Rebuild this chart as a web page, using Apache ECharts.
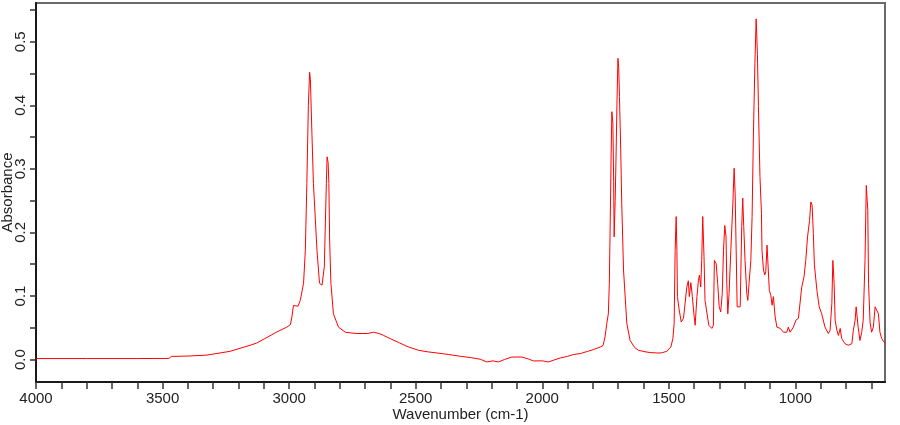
<!DOCTYPE html>
<html>
<head>
<meta charset="utf-8">
<script src="https://cdn.jsdelivr.net/npm/echarts@6/dist/echarts.min.js"></script>
<style>
  html, body { margin: 0; padding: 0; background: #fff; }
  #chart { width: 900px; height: 425px; }
</style>
</head>
<body>
<div id="chart"></div>
<script>
// IR spectrum, values
const wavenumbers = [
  4000, 3800, 3600, 3475, 3465, 3400, 3325, 3233, 3154, 3128, 3048, 3009, 2995, 2989, 2983, 2976, 2965, 2956,
  2943, 2936, 2930, 2924, 2919, 2916, 2910, 2904, 2890, 2880, 2870, 2861, 2853, 2850, 2846, 2843, 2840, 2835,
  2825, 2805, 2778, 2759, 2732, 2690, 2667, 2645, 2627, 2601, 2568, 2530, 2489, 2450, 2416, 2370, 2324, 2280,
  2245, 2219, 2195, 2173, 2150, 2120, 2081, 2055, 2035, 2000, 1976, 1955, 1929, 1900, 1877, 1850, 1820, 1798,
  1771, 1760, 1752, 1745, 1739, 1735, 1732, 1728, 1725, 1721, 1718, 1716, 1712, 1709, 1705, 1701, 1698, 1695,
  1690, 1686, 1679, 1666, 1653, 1635, 1620, 1590, 1574, 1547, 1530, 1508, 1492, 1484, 1479, 1475, 1471, 1468,
  1466, 1459, 1451, 1442, 1436, 1429, 1423, 1419, 1413, 1407, 1401, 1396, 1389, 1383, 1379, 1374, 1370, 1366,
  1361, 1357, 1350, 1342, 1330, 1324, 1320, 1317, 1313, 1307, 1301, 1295, 1289, 1284, 1279, 1274, 1271, 1267,
  1262, 1255, 1247, 1242, 1238, 1234, 1230, 1225, 1218, 1216, 1212, 1208, 1204, 1199, 1192, 1188, 1183, 1176,
  1171, 1166, 1160, 1155, 1150, 1146, 1140, 1134, 1132, 1126, 1121, 1117, 1112, 1108, 1103, 1097, 1092, 1087,
  1080, 1073, 1060, 1047, 1034, 1028, 1021, 1014, 1008, 998, 988, 975, 966, 959, 952, 944, 939, 934,
  929, 925, 915, 906, 896, 883, 870, 863, 856, 852, 847, 843, 836, 830, 823, 817, 804, 791,
  784, 777, 771, 764, 760, 758, 752, 745, 738, 732, 725, 720, 714, 711, 705, 699, 692, 685,
  679, 672, 666, 659, 651, 646
];
const absorbance = [
  0.0016, 0.0016, 0.0016, 0.0018, 0.005, 0.0055, 0.007, 0.013, 0.0225, 0.026, 0.0435, 0.051, 0.055, 0.067, 0.085, 0.085, 0.084, 0.093,
  0.12, 0.172, 0.277, 0.40, 0.452, 0.44, 0.356, 0.277, 0.172, 0.12, 0.117, 0.146, 0.277, 0.319, 0.31, 0.277, 0.188, 0.12,
  0.072, 0.051, 0.043, 0.042, 0.041, 0.041, 0.043, 0.041, 0.038, 0.033, 0.027, 0.020, 0.0146, 0.012, 0.0104, 0.008, 0.0052, 0.003,
  0.0005, -0.0038, -0.002, -0.0038, 0.000, 0.004, 0.004, 0.001, -0.0022, -0.002, -0.0038, -0.001, 0.0025, 0.005, 0.0079, 0.0094, 0.013, 0.0157,
  0.0198, 0.022, 0.0356, 0.057, 0.072, 0.12, 0.204, 0.32, 0.39, 0.372, 0.28, 0.193, 0.25, 0.309, 0.40, 0.474, 0.46, 0.414,
  0.33, 0.246, 0.141, 0.057, 0.030, 0.019, 0.0146, 0.012, 0.011, 0.0104, 0.0104, 0.013, 0.0198, 0.033, 0.057, 0.172, 0.225, 0.17,
  0.099, 0.078, 0.059, 0.065, 0.062, 0.114, 0.124, 0.099, 0.121, 0.099, 0.072, 0.054, 0.099, 0.125, 0.133, 0.114, 0.156, 0.225,
  0.162, 0.093, 0.093, 0.054, 0.049, 0.054, 0.156, 0.158, 0.151, 0.12, 0.083, 0.075, 0.104, 0.172, 0.211, 0.193, 0.12, 0.072,
  0.104, 0.172, 0.246, 0.301, 0.261, 0.172, 0.083, 0.080, 0.083, 0.125, 0.209, 0.254, 0.209, 0.156, 0.104, 0.093, 0.12, 0.156,
  0.225, 0.35, 0.466, 0.536, 0.48, 0.398, 0.288, 0.23, 0.172, 0.141, 0.133, 0.138, 0.18, 0.183, 0.109, 0.101, 0.0855, 0.099,
  0.067, 0.051, 0.049, 0.043, 0.043, 0.051, 0.043, 0.041, 0.051, 0.062, 0.065, 0.114, 0.130, 0.156, 0.193, 0.219, 0.248, 0.243,
  0.198, 0.149, 0.109, 0.083, 0.072, 0.051, 0.041, 0.046, 0.088, 0.156, 0.12, 0.062, 0.046, 0.038, 0.049, 0.033, 0.025, 0.0225,
  0.0198, 0.025, 0.046, 0.062, 0.083, 0.075, 0.051, 0.030, 0.043, 0.062, 0.156, 0.274, 0.235, 0.12, 0.059, 0.043, 0.051, 0.083,
  0.0855, 0.072, 0.043, 0.033, 0.028, 0.026
];

// axis ticks / labels
const xLabels = [1000, 1500, 2000, 2500, 3000, 3500, 4000];
const xTicks = [700, 800, 900, 1000, 1100, 1200, 1300, 1400, 1500, 1600, 1700, 1800, 1900, 2000, 2100, 2200, 2300,
  2400, 2500, 2600, 2700, 2800, 2900, 3000, 3100, 3200, 3300, 3400, 3500, 3600, 3700, 3800, 3900, 4000];
const yLabels = [0, 0.1, 0.2, 0.3, 0.4, 0.5];
const yTicks = [0, 0.05, 0.1, 0.15, 0.2, 0.25, 0.3, 0.35, 0.4, 0.45, 0.5, 0.55];

const FONT = 'Liberation Sans, Arial, sans-serif';
const chart = echarts.init(document.getElementById('chart'), null, { renderer: 'canvas' });

chart.setOption({
  animation: false,
  grid: {
    left: 36, right: 15, top: 3, bottom: 43,
    outerBoundsMode: 'none',
    containLabel: false,
    show: true, borderColor: '#6a6a6a', borderWidth: 2, backgroundColor: 'transparent'
  },
  xAxis: {
    type: 'value',
    inverse: true,
    min: 646,
    max: 4000,
    name: 'Wavenumber (cm-1)',
    nameLocation: 'middle',
    nameGap: 25,
    nameMoveOverlap: false,
    nameTextStyle: { fontSize: 15, color: '#222', fontFamily: FONT },
    axisLine: { show: true, onZero: false, lineStyle: { color: '#1a1a1a', width: 2 } },
    axisTick: { show: true, customValues: xTicks, length: 7, lineStyle: { color: '#333', width: 1.5 } },
    axisLabel: {
      customValues: xLabels, fontSize: 15, color: '#222', fontFamily: FONT, margin: 9,
      formatter: (v) => String(v)
    },
    splitLine: { show: false }
  },
  yAxis: {
    type: 'value',
    min: -0.0353,
    max: 0.561,
    name: 'Absorbance',
    nameLocation: 'middle',
    nameGap: 21,
    nameMoveOverlap: false,
    nameTextStyle: { fontSize: 15, color: '#222', fontFamily: FONT },
    axisLine: { show: true, onZero: false, lineStyle: { color: '#1a1a1a', width: 2 } },
    axisTick: { show: true, customValues: yTicks, length: 6, lineStyle: { color: '#333', width: 1.5 } },
    axisLabel: {
      customValues: yLabels, rotate: 90, fontSize: 15, color: '#222', fontFamily: FONT, margin: 8,
      formatter: (v) => v.toFixed(1)
    },
    splitLine: { show: false }
  },
  series: [{
    type: 'line',
    data: wavenumbers.map((w, i) => [w, absorbance[i]]),
    showSymbol: false,
    smooth: false,
    clip: true,
    lineStyle: { color: '#ff0000', width: 1 }
  }]
});
</script>
</body>
</html>
